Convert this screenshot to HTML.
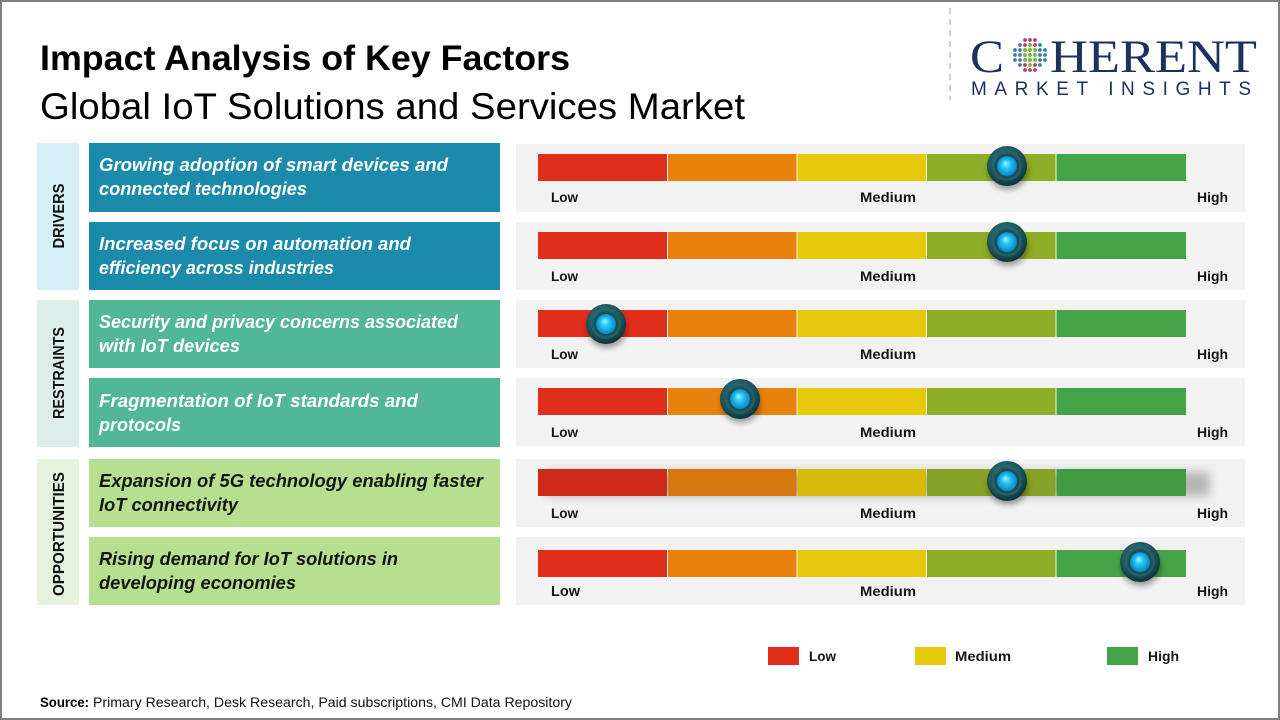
<!DOCTYPE html>
<html>
<head>
<meta charset="utf-8">
<style>
html,body{margin:0;padding:0;background:#fff;}
svg{display:block;}
text{font-family:"Liberation Sans",Arial,sans-serif;}
</style>
</head>
<body>
<svg width="1280" height="720" viewBox="0 0 1280 720" xmlns="http://www.w3.org/2000/svg">
<defs>
  <radialGradient id="ring" cx="45%" cy="40%" r="60%">
    <stop offset="0%" stop-color="#3f858c"/>
    <stop offset="70%" stop-color="#1c555c"/>
    <stop offset="100%" stop-color="#0c3338"/>
  </radialGradient>
  <radialGradient id="ring2" cx="50%" cy="50%" r="50%">
    <stop offset="0%" stop-color="#0f3d43"/>
    <stop offset="80%" stop-color="#1a4f56"/>
    <stop offset="100%" stop-color="#2c6870"/>
  </radialGradient>
  <radialGradient id="blue" cx="50%" cy="50%" r="50%" fx="42%" fy="35%">
    <stop offset="0%" stop-color="#9ff4ff"/>
    <stop offset="45%" stop-color="#22c4f2"/>
    <stop offset="100%" stop-color="#0a86c8"/>
  </radialGradient>
  <filter id="blur3" x="-50%" y="-50%" width="200%" height="200%"><feGaussianBlur stdDeviation="3"/></filter>
  <filter id="blur5" x="-20%" y="-50%" width="140%" height="200%"><feGaussianBlur stdDeviation="5"/></filter>
  <g id="knob">
    <ellipse cx="1" cy="5" rx="20" ry="19" fill="#000" opacity="0.35" filter="url(#blur3)"/>
    <circle r="20" fill="url(#ring)"/>
    <circle r="14.5" fill="url(#ring2)"/>
    <circle r="10" fill="url(#blue)"/>
  </g>
</defs>

<rect x="0" y="0" width="1280" height="720" fill="#fff"/>
<rect x="1" y="1" width="1278" height="718" fill="none" stroke="#808080" stroke-width="2"/>

<!-- Titles -->
<text x="40" y="70" font-size="35" font-weight="bold" fill="#000" textLength="530" lengthAdjust="spacingAndGlyphs">Impact Analysis of Key Factors</text>
<text x="40" y="119" font-size="37" fill="#000" textLength="705" lengthAdjust="spacingAndGlyphs">Global IoT Solutions and Services Market</text>

<!-- Logo -->
<line x1="950" y1="8" x2="950" y2="100" stroke="#bdbdbd" stroke-width="1.5" stroke-dasharray="6,5"/>
<text x="970" y="72" font-size="47" fill="#1d3160" textLength="34" lengthAdjust="spacingAndGlyphs" style="font-family:'Liberation Serif',serif">C</text>
<text x="1050" y="72" font-size="47" fill="#1d3160" textLength="207" lengthAdjust="spacingAndGlyphs" style="font-family:'Liberation Serif',serif">HERENT</text>
<text x="971" y="95" font-size="19" fill="#1d3160" textLength="280" lengthAdjust="spacing">MARKET INSIGHTS</text>
<g transform="translate(1030,55)">
  <g fill="#b83a6e">
    <circle cx="-5" cy="-15" r="1.9"/><circle cx="0" cy="-15" r="1.9"/><circle cx="5" cy="-15" r="1.9"/>
    <circle cx="-5" cy="15" r="1.9"/><circle cx="0" cy="15" r="1.9"/><circle cx="5" cy="15" r="1.9"/>
    <circle cx="-5" cy="-10" r="1.9"/><circle cx="5" cy="-10" r="1.9"/>
    <circle cx="-5" cy="10" r="1.9"/><circle cx="5" cy="10" r="1.9"/>
  </g>
  <g fill="#3b7ea6">
    <circle cx="-10" cy="-10" r="1.9"/><circle cx="10" cy="-10" r="1.9"/>
    <circle cx="-10" cy="10" r="1.9"/><circle cx="10" cy="10" r="1.9"/>
    <circle cx="-15" cy="-5" r="1.9"/><circle cx="-10" cy="-5" r="1.9"/><circle cx="10" cy="-5" r="1.9"/><circle cx="15" cy="-5" r="1.9"/>
    <circle cx="-15" cy="0" r="1.9"/><circle cx="-10" cy="0" r="1.9"/><circle cx="10" cy="0" r="1.9"/><circle cx="15" cy="0" r="1.9"/>
    <circle cx="-15" cy="5" r="1.9"/><circle cx="-10" cy="5" r="1.9"/><circle cx="10" cy="5" r="1.9"/><circle cx="15" cy="5" r="1.9"/>
  </g>
  <g fill="#7db84a">
    <circle cx="0" cy="-10" r="2.1"/><circle cx="0" cy="10" r="2.1"/>
    <circle cx="-5" cy="-5" r="2.1"/><circle cx="0" cy="-5" r="2.1"/><circle cx="5" cy="-5" r="2.1"/>
    <circle cx="-5" cy="0" r="2.1"/><circle cx="0" cy="0" r="2.1"/><circle cx="5" cy="0" r="2.1"/>
    <circle cx="-5" cy="5" r="2.1"/><circle cx="0" cy="5" r="2.1"/><circle cx="5" cy="5" r="2.1"/>
  </g>
</g>

<!-- Category columns -->
<rect x="37" y="143" width="42" height="147" fill="#d5eef8"/>
<rect x="37" y="300" width="42" height="147" fill="#dbeeea"/>
<rect x="37" y="459" width="42" height="146" fill="#e5f2dc"/>
<text transform="translate(64,216) rotate(-90)" text-anchor="middle" font-size="16" font-weight="bold" fill="#111" textLength="65" lengthAdjust="spacingAndGlyphs">DRIVERS</text>
<text transform="translate(64,373) rotate(-90)" text-anchor="middle" font-size="16" font-weight="bold" fill="#111" textLength="92" lengthAdjust="spacingAndGlyphs">RESTRAINTS</text>
<text transform="translate(64,534) rotate(-90)" text-anchor="middle" font-size="16" font-weight="bold" fill="#111" textLength="124" lengthAdjust="spacingAndGlyphs">OPPORTUNITIES</text>

<!-- Factor boxes -->
<rect x="89" y="143" width="411" height="69" fill="#1b8aab"/>
<rect x="89" y="222" width="411" height="68" fill="#1b8aab"/>
<rect x="89" y="300" width="411" height="68" fill="#52b798"/>
<rect x="89" y="378" width="411" height="69" fill="#52b798"/>
<rect x="89" y="459" width="411" height="68" fill="#b6e08f"/>
<rect x="89" y="537" width="411" height="68" fill="#b6e08f"/>

<g font-size="18" font-weight="bold" font-style="italic" fill="#fff">
  <text x="99" y="171" textLength="349" lengthAdjust="spacingAndGlyphs">Growing adoption of smart devices and</text>
  <text x="99" y="195" textLength="208" lengthAdjust="spacingAndGlyphs">connected technologies</text>
  <text x="99" y="250" textLength="312" lengthAdjust="spacingAndGlyphs">Increased focus on automation and</text>
  <text x="99" y="274" textLength="235" lengthAdjust="spacingAndGlyphs">efficiency across industries</text>
  <text x="99" y="328" textLength="359" lengthAdjust="spacingAndGlyphs">Security and privacy concerns associated</text>
  <text x="99" y="352" textLength="141" lengthAdjust="spacingAndGlyphs">with IoT devices</text>
  <text x="99" y="407" textLength="319" lengthAdjust="spacingAndGlyphs">Fragmentation of IoT standards and</text>
  <text x="99" y="431" textLength="82" lengthAdjust="spacingAndGlyphs">protocols</text>
</g>
<g font-size="18" font-weight="bold" font-style="italic" fill="#151515">
  <text x="99" y="487" textLength="384" lengthAdjust="spacingAndGlyphs">Expansion of 5G technology enabling faster</text>
  <text x="99" y="511" textLength="139" lengthAdjust="spacingAndGlyphs">IoT connectivity</text>
  <text x="99" y="565" textLength="299" lengthAdjust="spacingAndGlyphs">Rising demand for IoT solutions in</text>
  <text x="99" y="589" textLength="197" lengthAdjust="spacingAndGlyphs">developing economies</text>
</g>

<!-- Gauge panels -->
<g fill="#f2f2f2">
  <rect x="516" y="144" width="729" height="68"/>
  <rect x="516" y="222" width="729" height="68"/>
  <rect x="516" y="300" width="729" height="68"/>
  <rect x="516" y="378" width="729" height="68"/>
  <rect x="516" y="459" width="729" height="68"/>
  <rect x="516" y="537" width="729" height="68"/>
</g>

<!-- Bars -->
<g id="bar1">
  <rect x="538" y="154" width="129" height="27" fill="#df2f1b"/>
  <rect x="668" y="154" width="128.5" height="27" fill="#e8820c"/>
  <rect x="797.5" y="154" width="128.5" height="27" fill="#e6c90a"/>
  <rect x="927" y="154" width="128.5" height="27" fill="#8fad26"/>
  <rect x="1056.5" y="154" width="129.5" height="27" fill="#43a447"/>
</g>
<use href="#bar1" transform="translate(0,78)"/>
<use href="#bar1" transform="translate(0,156)"/>
<use href="#bar1" transform="translate(0,234)"/>
<rect x="545" y="472" width="665" height="24" fill="#000" opacity="0.25" filter="url(#blur5)"/>
<g>
  <rect x="538" y="469" width="129" height="27" fill="#cf2a19"/>
  <rect x="668" y="469" width="128.5" height="27" fill="#d87811"/>
  <rect x="797.5" y="469" width="128.5" height="27" fill="#d6bb0c"/>
  <rect x="927" y="469" width="128.5" height="27" fill="#87a227"/>
  <rect x="1056.5" y="469" width="129.5" height="27" fill="#3f9a42"/>
</g>
<use href="#bar1" transform="translate(0,396)"/>

<!-- Gauge labels -->
<g font-size="14" font-weight="bold" fill="#151515">
  <text x="551" y="202" textLength="27" lengthAdjust="spacingAndGlyphs">Low</text>
  <text x="860" y="202" textLength="56" lengthAdjust="spacingAndGlyphs">Medium</text>
  <text x="1197" y="202" textLength="31" lengthAdjust="spacingAndGlyphs">High</text>
  <text x="551" y="281" textLength="27" lengthAdjust="spacingAndGlyphs">Low</text>
  <text x="860" y="281" textLength="56" lengthAdjust="spacingAndGlyphs">Medium</text>
  <text x="1197" y="281" textLength="31" lengthAdjust="spacingAndGlyphs">High</text>
  <text x="551" y="359" textLength="27" lengthAdjust="spacingAndGlyphs">Low</text>
  <text x="860" y="359" textLength="56" lengthAdjust="spacingAndGlyphs">Medium</text>
  <text x="1197" y="359" textLength="31" lengthAdjust="spacingAndGlyphs">High</text>
  <text x="551" y="437" textLength="27" lengthAdjust="spacingAndGlyphs">Low</text>
  <text x="860" y="437" textLength="56" lengthAdjust="spacingAndGlyphs">Medium</text>
  <text x="1197" y="437" textLength="31" lengthAdjust="spacingAndGlyphs">High</text>
  <text x="551" y="518" textLength="27" lengthAdjust="spacingAndGlyphs">Low</text>
  <text x="860" y="518" textLength="56" lengthAdjust="spacingAndGlyphs">Medium</text>
  <text x="1197" y="518" textLength="31" lengthAdjust="spacingAndGlyphs">High</text>
  <text x="551" y="596" font-size="15" textLength="29" lengthAdjust="spacingAndGlyphs">Low</text>
  <text x="860" y="596" textLength="56" lengthAdjust="spacingAndGlyphs">Medium</text>
  <text x="1197" y="596" textLength="31" lengthAdjust="spacingAndGlyphs">High</text>
</g>

<!-- Knobs -->
<use href="#knob" x="1007" y="166"/>
<use href="#knob" x="1007" y="242"/>
<use href="#knob" x="606" y="324"/>
<use href="#knob" x="740" y="399"/>
<use href="#knob" x="1007" y="481"/>
<use href="#knob" x="1140" y="562"/>

<!-- Legend -->
<rect x="768" y="647" width="31" height="18" fill="#df2f1b"/>
<text x="809" y="661" font-size="14" font-weight="bold" fill="#151515" textLength="27" lengthAdjust="spacingAndGlyphs">Low</text>
<rect x="915" y="647" width="31" height="18" fill="#e6c90a"/>
<text x="955" y="661" font-size="14" font-weight="bold" fill="#151515" textLength="56" lengthAdjust="spacingAndGlyphs">Medium</text>
<rect x="1107" y="647" width="31" height="18" fill="#43a447"/>
<text x="1148" y="661" font-size="14" font-weight="bold" fill="#151515" textLength="31" lengthAdjust="spacingAndGlyphs">High</text>

<!-- Source -->
<text x="40" y="707" font-size="14" font-weight="bold" fill="#000" textLength="49" lengthAdjust="spacingAndGlyphs">Source:</text>
<text x="93" y="707" font-size="14" fill="#111" textLength="479" lengthAdjust="spacingAndGlyphs">Primary Research, Desk Research, Paid subscriptions, CMI Data Repository</text>
</svg>
</body>
</html>
